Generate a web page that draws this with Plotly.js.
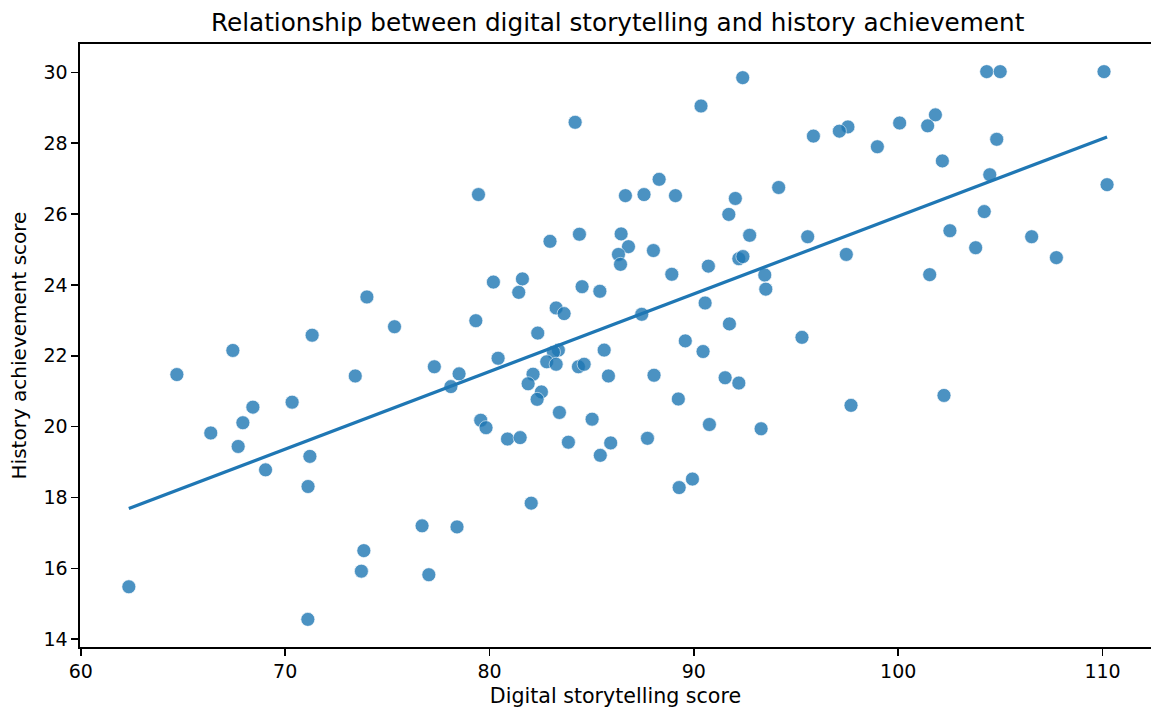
<!DOCTYPE html>
<html>
<head>
<meta charset="utf-8">
<script src="https://cdn.plot.ly/plotly-3.0.1.min.js"></script>
<style>
  html, body { margin: 0; padding: 0; background: #fff; }
  #chart { width: 1151px; height: 709px; }
</style>
</head>
<body>
<div id="chart"></div>
<script>
// Digital storytelling score (x) and history achievement score (y)
const storytelling = [
  74.00, 75.35, 71.32, 67.44, 92.39, 90.35, 84.19, 95.85, 79.46, 88.30,
  86.65, 87.56, 89.10, 92.03, 91.71, 94.15, 92.73, 95.57, 82.96, 84.40,
  86.44, 86.80, 86.31, 86.41, 88.02, 92.20, 92.40, 90.71, 88.92, 93.47,
  93.52, 80.19, 81.61, 81.43, 84.53, 85.40, 90.55, 83.26, 83.65, 87.45,
  79.33, 82.36, 91.74, 95.29, 89.58, 104.33, 104.99, 110.07, 101.82, 101.44,
  100.07, 97.54, 97.12, 98.98, 104.82, 102.16, 104.48, 110.22, 104.21, 102.53,
  106.53, 103.79, 97.46, 107.74, 101.54, 64.70, 73.43, 77.30, 78.51, 78.11,
  70.34, 68.42, 67.93, 66.36, 67.70, 71.21, 69.04, 71.12, 76.70, 78.41,
  73.85, 73.73, 77.03, 62.35, 71.11, 80.42, 83.37, 83.13, 85.61, 90.45,
  82.80, 83.26, 82.13, 81.89, 84.35, 84.63, 85.82, 88.05, 91.53, 92.20,
  82.54, 82.33, 89.24, 83.42, 85.02, 90.76, 93.29, 79.57, 79.83, 80.88,
  81.50, 83.86, 85.93, 85.42, 87.73, 89.93, 89.28, 82.04, 97.69, 102.24
];
const achievement = [
  23.66, 22.82, 22.58, 22.15, 29.85, 29.05, 28.59, 28.20, 26.55, 26.98,
  26.52, 26.55, 26.52, 26.44, 25.99, 26.75, 25.40, 25.36, 25.23, 25.43,
  25.44, 25.08, 24.86, 24.58, 24.97, 24.74, 24.80, 24.53, 24.30, 24.28,
  23.88, 24.08, 24.17, 23.79, 23.95, 23.82, 23.49, 23.35, 23.19, 23.17,
  22.99, 22.64, 22.90, 22.52, 22.42, 30.02, 30.02, 30.02, 28.80, 28.49,
  28.57, 28.46, 28.34, 27.90, 28.11, 27.50, 27.11, 26.83, 26.07, 25.53,
  25.36, 25.05, 24.86, 24.77, 24.29, 21.47, 21.43, 21.69, 21.49, 21.13,
  20.69, 20.55, 20.11, 19.82, 19.44, 19.16, 18.78, 18.31, 17.20, 17.17,
  16.50, 15.92, 15.82, 15.48, 14.56, 21.93, 22.16, 22.10, 22.16, 22.12,
  21.83, 21.76, 21.48, 21.21, 21.69, 21.76, 21.43, 21.45, 21.38, 21.23,
  20.98, 20.77, 20.78, 20.40, 20.21, 20.06, 19.94, 20.18, 19.97, 19.65,
  19.69, 19.56, 19.54, 19.19, 19.67, 18.52, 18.28, 17.84, 20.60, 20.88
];
const xTicks = [60, 70, 80, 90, 100, 110];
const yTicks = [14, 16, 18, 20, 22, 24, 26, 28, 30];

// Ordinary least squares fit, drawn across the data's x range
const n = storytelling.length;
const mx = storytelling.reduce((a, b) => a + b, 0) / n;
const my = achievement.reduce((a, b) => a + b, 0) / n;
let sxy = 0, sxx = 0;
for (let i = 0; i < n; i++) {
  sxy += (storytelling[i] - mx) * (achievement[i] - my);
  sxx += (storytelling[i] - mx) ** 2;
}
const slope = sxy / sxx;
const intercept = my - slope * mx;
const xmin = Math.min(...storytelling), xmax = Math.max(...storytelling);
const fitX = [xmin, xmax];
const fitY = fitX.map(v => intercept + slope * v);

const blue = '#1f77b4';
const font = 'DejaVu Sans, sans-serif';

const traces = [
  {
    x: storytelling, y: achievement, type: 'scatter', mode: 'markers',
    marker: { color: blue, size: 14, opacity: 0.8, line: { color: 'rgba(255,255,255,0.85)', width: 0.8 } },
    hoverinfo: 'x+y', showlegend: false
  },
  {
    x: fitX, y: fitY, type: 'scatter', mode: 'lines',
    line: { color: blue, width: 3.2 }, showlegend: false
  }
];

const layout = {
  width: 1151, height: 709,
  paper_bgcolor: '#fff', plot_bgcolor: '#fff',
  margin: { l: 80, r: 0, t: 44, b: 62 },
  font: { family: font, color: '#000', size: 20 },
  title: {
    text: 'Relationship between digital storytelling and history achievement',
    font: { family: font, size: 24.7, color: '#000' },
    x: 0.502, xanchor: 'center', xref: 'paper',
    y: 1 - 22 / 709, yref: 'container', yanchor: 'middle'
  },
  xaxis: {
    range: [59.96, 112.37], tickvals: xTicks, ticktext: xTicks.map(String),
    showgrid: false, zeroline: false,
    showline: true, linecolor: '#000', linewidth: 1.6, mirror: true,
    ticks: 'outside', ticklen: 7, tickwidth: 1.6, tickcolor: '#000',
    tickfont: { family: font, size: 19, color: '#000' },
    title: { text: 'Digital storytelling score', font: { family: font, size: 20.6, color: '#000' }, standoff: 7 }
  },
  yaxis: {
    range: [13.78, 30.80], tickvals: yTicks, ticktext: yTicks.map(String),
    showgrid: false, zeroline: false,
    showline: true, linecolor: '#000', linewidth: 1.6, mirror: false,
    ticks: 'outside', ticklen: 7, tickwidth: 1.6, tickcolor: '#000',
    tickfont: { family: font, size: 19, color: '#000' },
    title: { text: 'History achievement score', font: { family: font, size: 20, color: '#000' }, standoff: 11 }
  }
};

Plotly.newPlot('chart', traces, layout, { displayModeBar: false, staticPlot: true });
</script>
</body>
</html>
